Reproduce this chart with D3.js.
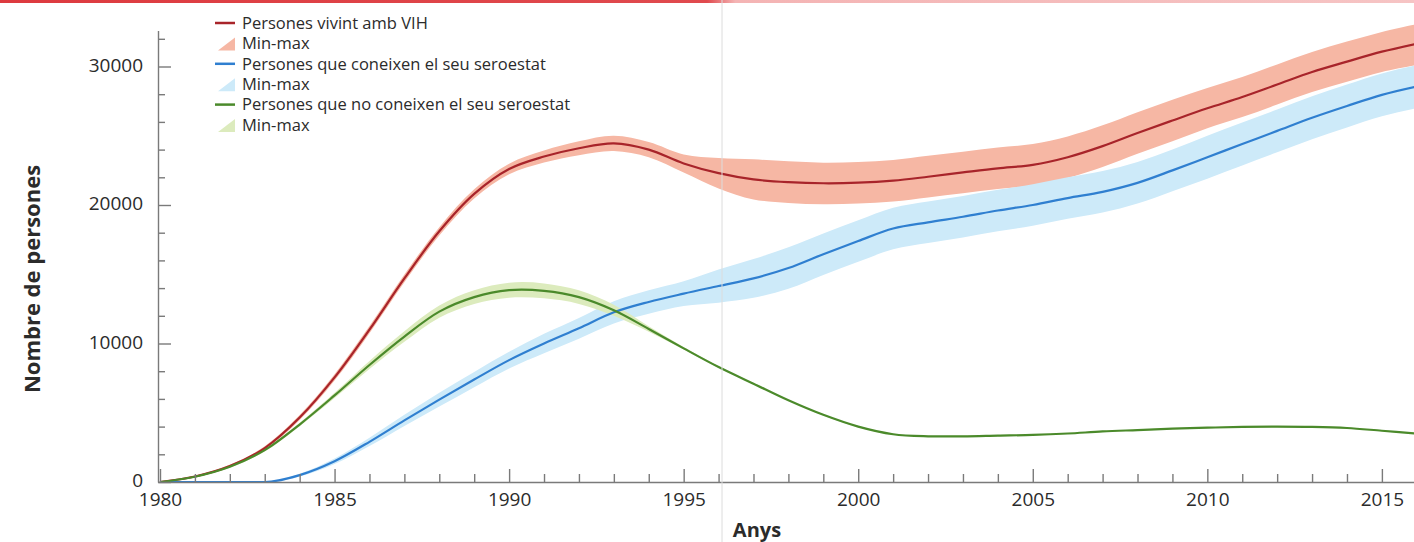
<!DOCTYPE html>
<html>
<head>
<meta charset="utf-8">
<script src="https://cdn.jsdelivr.net/npm/d3@7"></script>
<style>
  html, body { margin: 0; padding: 0; background: #fff; }
  svg { display: block; font-family: "Open Sans", "DejaVu Sans", sans-serif; }
</style>
</head>
<body>
<svg id="chart" width="1414" height="542"></svg>
<script>
// ---------- data ----------
const years = d3.range(1980, 2017);

const vivint = [0, 400, 1150, 2450, 4650, 7550, 11000, 14700, 18100, 20800,
  22600, 23500, 24100, 24450, 24000, 23000, 22300, 21850, 21650, 21570,
  21610, 21760, 22040, 22350, 22650, 22900, 23450, 24250, 25200, 26100,
  26980, 27800, 28700, 29600, 30350, 31070, 31650];
const vivintMin = [0, 350, 1060, 2320, 4470, 7320, 10740, 14420, 17800, 20470,
  22220, 23070, 23600, 23900, 23450, 22350, 21200, 20400, 20150, 20050,
  20100, 20250, 20550, 20850, 21150, 21400, 21950, 22750, 23700, 24600,
  25550, 26350, 27250, 28150, 28900, 29600, 30100];
const vivintMax = [0, 450, 1240, 2580, 4830, 7780, 11260, 14980, 18400, 21130,
  22980, 23930, 24600, 25000, 24550, 23650, 23400, 23300, 23150, 23050,
  23100, 23250, 23550, 23850, 24150, 24400, 24950, 25750, 26700, 27600,
  28450, 29250, 30150, 31050, 31800, 32500, 33050];

const coneixen = [0, 0, 0, 0, 500, 1500, 2900, 4450, 5950, 7400,
  8800, 10000, 11100, 12250, 13000, 13600, 14150, 14700, 15450, 16450,
  17400, 18300, 18750, 19150, 19600, 20000, 20500, 20950, 21600, 22500,
  23450, 24400, 25350, 26300, 27150, 27950, 28550];
const coneixenMin = [0, 0, 0, 0, 400, 1300, 2600, 4050, 5450, 6850,
  8200, 9300, 10350, 11450, 12150, 12700, 12950, 13300, 13950, 14950,
  15900, 16800, 17250, 17650, 18100, 18500, 19000, 19450, 20100, 21000,
  21900, 22850, 23800, 24750, 25600, 26400, 27000];
const coneixenMax = [0, 0, 0, 0, 600, 1700, 3200, 4850, 6450, 7950,
  9400, 10700, 11850, 13050, 13850, 14500, 15350, 16100, 16950, 17950,
  18900, 19800, 20250, 20650, 21100, 21500, 22000, 22450, 23100, 24000,
  25000, 25950, 26900, 27850, 28700, 29500, 30100];

const noConeixen = [0, 380, 1100, 2300, 4150, 6250, 8450, 10500, 12300, 13350,
  13850, 13800, 13350, 12400, 11050, 9650, 8300, 7100, 5900, 4850,
  4000, 3450, 3300, 3300, 3350, 3400, 3500, 3650, 3750, 3850,
  3920, 3980, 4000, 3980, 3900, 3700, 3500];
const noConeixenMin = [0, 350, 1030, 2200, 4030, 6060, 8160, 10120, 11860, 12860,
  13310, 13260, 12860, 12010, 10850, 9560, 8250, 7060, 5860, 4810,
  3960, 3410, 3260, 3260, 3310, 3360, 3460, 3610, 3710, 3810,
  3880, 3940, 3960, 3940, 3860, 3660, 3460];
const noConeixenMax = [0, 410, 1170, 2400, 4270, 6440, 8740, 10880, 12740, 13840,
  14390, 14340, 13840, 12790, 11250, 9740, 8350, 7140, 5940, 4890,
  4040, 3490, 3340, 3340, 3390, 3440, 3540, 3690, 3790, 3890,
  3960, 4020, 4040, 4020, 3940, 3740, 3540];

const yMajorTicks = [0, 10000, 20000, 30000];
const yMinorTicks = [2000, 4000, 6000, 8000, 12000, 14000, 16000, 18000, 22000, 24000, 26000, 28000, 32000];
const xMajorTicks = [1980, 1985, 1990, 1995, 2000, 2005, 2010, 2015];
const xMinorTicks = years.filter(v => v % 5 !== 0);

const legendLabels = [
  "Persones vivint amb VIH", "Min-max",
  "Persones que coneixen el seu seroestat", "Min-max",
  "Persones que no coneixen el seu seroestat", "Min-max"
];
const yTitle = "Nombre de persones";
const xTitle = "Anys";

// ---------- styles ----------
const C = {
  red: "#a8242a", redBand: "#f6b7a4",
  blue: "#2f7fd0", blueBand: "#cdeaf9",
  green: "#4b8a2b", greenBand: "#dcebbd",
  axis: "#7a7a7a", text: "#2b2b2b"
};

const series = [
  { line: vivint, lo: vivintMin, hi: vivintMax, color: C.red, band: C.redBand, curve: d3.curveCatmullRom.alpha(0.5) },
  { line: coneixen, lo: coneixenMin, hi: coneixenMax, color: C.blue, band: C.blueBand, curve: d3.curveMonotoneX },
  { line: noConeixen, lo: noConeixenMin, hi: noConeixenMax, color: C.green, band: C.greenBand, curve: d3.curveCatmullRom.alpha(0.5) }
];

// ---------- scales ----------
const axisX = 158, axisY = 482;
const x = d3.scaleLinear().domain([1980, 2016]).range([160, 1416.8]);
const y = d3.scaleLinear().domain([0, 30000]).range([axisY, 66.5]);

const svg = d3.select("#chart");

// page decorations (scan): top red rule
const defs = svg.append("defs");
const grad = defs.append("linearGradient").attr("id", "topRule").attr("x1", "0").attr("x2", "1");
grad.append("stop").attr("offset", "0").attr("stop-color", "#dd3a3f");
grad.append("stop").attr("offset", "0.5").attr("stop-color", "#e04a4e");
grad.append("stop").attr("offset", "0.52").attr("stop-color", "#f4b4b4");
grad.append("stop").attr("offset", "1").attr("stop-color", "#f6c4c4");
svg.append("rect").attr("x", 0).attr("y", 0).attr("width", 1414).attr("height", 3).attr("fill", "url(#topRule)");

const clip = defs.append("clipPath").attr("id", "plotClip");
clip.append("rect").attr("x", axisX).attr("y", 0).attr("width", 1414 - axisX).attr("height", axisY);

const plot = svg.append("g").attr("clip-path", "url(#plotClip)");

const area = (s) => d3.area()
  .x((d, i) => x(years[i]))
  .y0((d, i) => y(s.lo[i]))
  .y1((d, i) => y(s.hi[i]))
  .curve(s.curve);
const line = (s) => d3.line()
  .x((d, i) => x(years[i]))
  .y(d => y(Math.max(0, d)))
  .curve(s.curve);

series.forEach(s => {
  plot.append("path").datum(s.line).attr("d", area(s)).attr("fill", s.band).attr("stroke", "none");
});
series.forEach(s => {
  plot.append("path").datum(s.line).attr("d", line(s)).attr("fill", "none")
    .attr("stroke", s.color).attr("stroke-width", 2.2).attr("stroke-linejoin", "round");
});

// ---------- axes ----------
const yAxisScale = y.copy().domain([0, 32600]).range([axisY, y(32600)]);
const gyMinor = svg.append("g").attr("transform", `translate(${axisX},0)`)
  .call(d3.axisLeft(yAxisScale).tickValues(yMinorTicks).tickSize(-7).tickSizeOuter(0).tickFormat(""));
const gy = svg.append("g").attr("transform", `translate(${axisX},0)`)
  .call(d3.axisLeft(yAxisScale).tickValues(yMajorTicks).tickSize(-13).tickSizeOuter(0).tickPadding(15)
    .tickFormat(d3.format("d")));
gyMinor.select(".domain").remove();

const xAxisScale = x.copy().domain([x.invert(axisX), x.invert(1414)]).range([axisX, 1414]);
const gxMinor = svg.append("g").attr("transform", `translate(0,${axisY})`)
  .call(d3.axisBottom(xAxisScale).tickValues(xMinorTicks).tickSize(-8).tickSizeOuter(0).tickFormat(""));
const gx = svg.append("g").attr("transform", `translate(0,${axisY})`)
  .call(d3.axisBottom(xAxisScale).tickValues(xMajorTicks).tickSize(-13).tickSizeOuter(0).tickPadding(11)
    .tickFormat(d3.format("d")));
gxMinor.select(".domain").remove();

[gy, gyMinor, gx, gxMinor].forEach(g => {
  g.selectAll("path, line").attr("stroke", C.axis).attr("stroke-width", 1.4);
  g.selectAll("text").attr("fill", C.text).style("font-size", "19px")
    .style("font-family", "'Open Sans', sans-serif");
});
gy.selectAll("text").attr("dy", "0.25em");

// axis titles
svg.append("text")
  .attr("transform", "translate(40,279) rotate(-90)")
  .attr("text-anchor", "middle")
  .attr("fill", C.text)
  .style("font-size", "22px").style("font-weight", "bold")
  .text(yTitle);
svg.append("text")
  .attr("x", 757).attr("y", 537)
  .attr("text-anchor", "middle")
  .attr("fill", C.text)
  .style("font-size", "20px").style("font-weight", "bold")
  .text(xTitle);

// fold line of the scanned page
svg.append("line").attr("x1", 722).attr("x2", 722).attr("y1", 0).attr("y2", 542)
  .attr("stroke", "#dcdcdc").attr("stroke-width", 1);

// ---------- legend ----------
const legendColors = [C.red, C.redBand, C.blue, C.blueBand, C.green, C.greenBand];
const lg = svg.append("g").attr("transform", "translate(215,23)");
legendLabels.forEach((lab, i) => {
  const row = lg.append("g").attr("transform", `translate(0,${i * 20.4})`);
  if (i % 2 === 0) {
    row.append("line").attr("x1", 0).attr("x2", 20).attr("y1", 0).attr("y2", 0)
      .attr("stroke", legendColors[i]).attr("stroke-width", 2.5);
  } else {
    row.append("path").attr("d", "M3,7 L20,-6 L20,7 Z").attr("fill", legendColors[i]);
  }
  row.append("text").attr("x", 27).attr("y", 0).attr("dy", "0.35em")
    .attr("fill", C.text).style("font-size", "16.5px").text(lab);
});
</script>
</body>
</html>
